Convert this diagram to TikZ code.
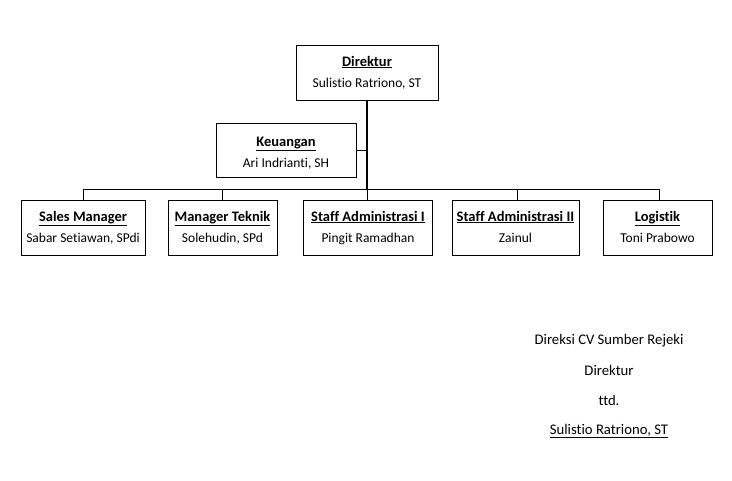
\documentclass[tikz,border=0pt]{standalone}
\usepackage{fontspec}
\setmainfont[Ligatures=CommonOff]{Carlito}
\begin{document}
\begin{tikzpicture}[x=1pt,y=-1pt,
  box/.style={draw,line width=0.8pt,inner sep=0pt},
  ttl/.style={anchor=base,inner sep=0pt,font=\fontsize{14.5}{16}\selectfont\bfseries},
  nm/.style={anchor=base,inner sep=0pt,font=\fontsize{13.5}{16}\selectfont},
  sig/.style={anchor=base,inner sep=0pt,font=\fontsize{14.7}{16}\selectfont},
  conn/.style={line width=0.8pt},
  trunk/.style={line width=2pt}]
\useasboundingbox (0,0) rectangle (732,480);
% boxes
\node[box,minimum width=142pt,minimum height=55pt] (dir) at (367,72.5) {};
\node[box,minimum width=140pt,minimum height=54pt] (keu) at (286,150) {};
\node[box,minimum width=124pt,minimum height=55pt] (sal) at (83,227.5) {};
\node[box,minimum width=109pt,minimum height=55pt] (tek) at (222.5,227.5) {};
\node[box,minimum width=129pt,minimum height=55pt] (sa1) at (368,227.5) {};
\node[box,minimum width=127pt,minimum height=55pt] (sa2) at (515.5,227.5) {};
\node[box,minimum width=109pt,minimum height=55pt] (log) at (657.5,227.5) {};
% texts
\node[ttl] (dirT) at (367,66) {\underline{Direktur}};
\node[nm]  (dirN) at (367,87.5) {Sulistio Ratriono, ST};
\node[ttl] (keuT) at (286,146) {\underline{Keuangan}};
\node[nm]  (keuN) at (286,167.5) {Ari Indrianti, SH};
\node[ttl] (salT) at (83,221) {\underline{Sales Manager}};
\node[nm]  (salN) at (83,242.5) {Sabar Setiawan, SPdi};
\node[ttl] (tekT) at (222.5,221) {\underline{Manager Teknik}};
\node[nm]  (tekN) at (222.5,242.5) {Solehudin, SPd};
\node[ttl] (sa1T) at (368,221) {\underline{Staff Administrasi I}};
\node[nm]  (sa1N) at (368,242.5) {Pingit Ramadhan};
\node[ttl] (sa2T) at (515.5,221) {\underline{Staff Administrasi II}};
\node[nm]  (sa2N) at (515.5,242.5) {Zainul};
\node[ttl] (logT) at (657.5,221) {\underline{Logistik}};
\node[nm]  (logN) at (657.5,242.5) {Toni Prabowo};
% connectors
\coordinate (bus) at (367,189);
\coordinate (busL) at (83,189);
\coordinate (busR) at (659,189);
\draw[trunk] (dir.south) -- (bus);
\draw[conn] (keu.east) -- (keu.east -| bus);
\draw[conn] (busL) -- (busR);
\draw[conn] (busL) -- (sal.north);
\draw[conn] (tek.north |- bus) -- (tek.north);
\draw[conn] (bus) -- (bus |- sa1.north);
\draw[conn] (517,189) -- (517,200);
\draw[conn] (busR) -- (busR |- log.north);
% signature
\node[sig] (s1) at (609,344) {Direksi CV Sumber Rejeki};
\node[sig] (s2) at (609,375) {Direktur};
\node[sig] (s3) at (609,405) {ttd.};
\node[sig] (s4) at (609,434) {\underline{Sulistio Ratriono, ST}};
\end{tikzpicture}
\end{document}
